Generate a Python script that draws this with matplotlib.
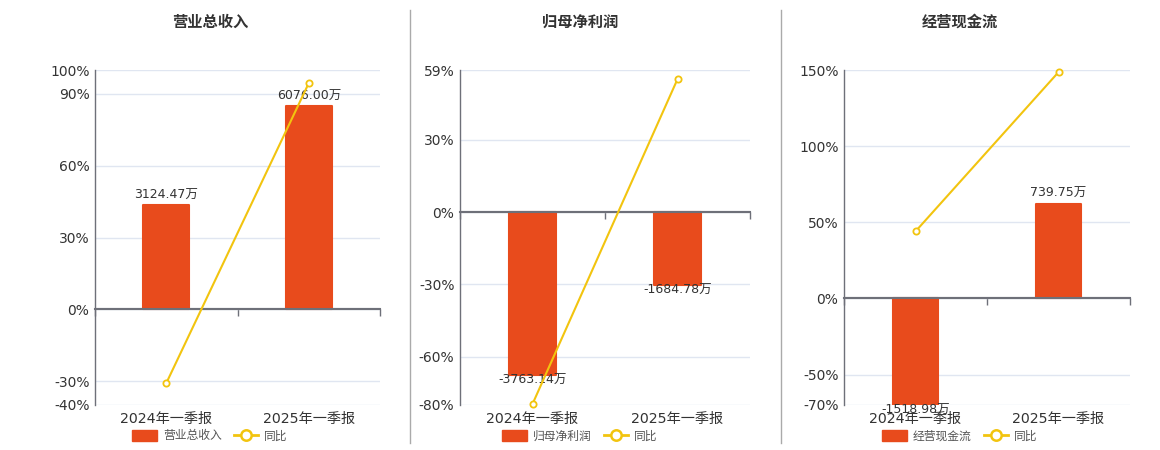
import matplotlib
matplotlib.use('Agg')
import matplotlib.pyplot as plt
from matplotlib.lines import Line2D
from matplotlib.patches import Patch
import numpy as np

plt.rcParams['font.family'] = ['DejaVu Sans', 'Noto Sans CJK SC']

# DATA
periods = ['2024年一季报', '2025年一季报']
titles = ['营业总收入', '归母净利润', '经营现金流']
bar_labels = [['3124.47万', '6076.00万'], ['-3763.14万', '-1684.78万'], ['-1518.98万', '739.75万']]

revenue = [3124.47, 6076.00]
revenue_yoy = [-30.9, 94.5]
profit = [-3763.14, -1684.78]
profit_yoy = [-79.6, 55.2]
cashflow = [-1518.98, 739.75]
cashflow_yoy = [44.0, 148.6]

pct_ticks = [[100, 90, 60, 30, 0, -30, -40],
             [59, 30, 0, -30, -60, -80],
             [150, 100, 50, 0, -50, -70]]

RED = '#E84B1C'
YEL = '#F2C40F'
AXC = '#6E7079'
GRID = '#E0E6F1'
TXT = '#333333'

W, H = 1160, 450
fig = plt.figure(figsize=(W / 100, H / 100), dpi=100)

# layout in pixels: axes left, right ; panel centre
axes_px = [(95, 380), (460, 750), (844, 1130)]
centers_px = [210, 580, 960]
bar_tops = [7163, 3283, 1784]   # bar axis top so that zero lines up
top_px, bot_px = 70, 405

series = [(revenue, revenue_yoy), (profit, profit_yoy), (cashflow, cashflow_yoy)]
x = np.arange(len(periods))

for i, (vals, yoy) in enumerate(series):
    l, r = axes_px[i]
    ax = fig.add_axes([l / W, 1 - bot_px / H, (r - l) / W, (bot_px - top_px) / H])
    ticks = pct_ticks[i]
    pmin, pmax = min(ticks), max(ticks)
    ax.set_xlim(-0.5, 1.5)
    ax.set_ylim(pmin, pmax)
    ax.set_yticks(ticks)
    ax.set_yticklabels([f'{t}%' for t in ticks])
    ax.grid(axis='y', color=GRID, lw=1)
    ax.set_axisbelow(True)
    ax.tick_params(axis='y', length=0, pad=4, labelsize=10, labelcolor=TXT)
    for s in ['top', 'right']:
        ax.spines[s].set_visible(False)
    ax.spines['left'].set_color(AXC)
    ax.spines['left'].set_linewidth(1)

    # zero axis with category boundary ticks
    ax.spines['bottom'].set_position(('data', 0))
    ax.spines['bottom'].set_color(AXC)
    ax.spines['bottom'].set_linewidth(1.5)
    ax.set_xticks([-0.5, 0.5, 1.5])
    ax.set_xticklabels(['', '', ''])
    ax.tick_params(axis='x', length=5, width=1, color=AXC, direction='out')

    # category labels at the bottom
    sec = ax.secondary_xaxis('bottom')
    sec.set_xticks(x)
    sec.set_xticklabels(periods)
    sec.spines['bottom'].set_visible(False)
    sec.tick_params(length=0, pad=5, labelsize=10.2, labelcolor=TXT)

    # bars on hidden twin axis
    axb = ax.twinx()
    bt = bar_tops[i]
    blo = bt * pmin / pmax
    axb.set_ylim(blo, bt)
    axb.axis('off')
    axb.bar(x, vals, width=0.32, color=RED, edgecolor=RED, linewidth=1.5,
            joinstyle='round', zorder=2)
    for xi, v, lab in zip(x, vals, bar_labels[i]):
        yv = float(np.clip(v, blo, bt))
        off = 7.2 if v >= 0 else -3.6
        axb.annotate(lab, (xi, yv), xytext=(0, off), textcoords='offset points',
                     ha='center', va='center', fontsize=9, color=TXT,
                     annotation_clip=False, zorder=5)

    # yoy line on another hidden twin
    axl = ax.twinx()
    axl.set_ylim(pmin, pmax)
    axl.axis('off')
    axl.axhline(0, color=AXC, lw=1.5, zorder=1)
    axl.plot(x, yoy, color=YEL, lw=1.5, marker='o', ms=4.5, mfc='white',
             mec=YEL, mew=1.3, clip_on=False, zorder=6)

    cx = centers_px[i] / W
    fig.text(cx, 1 - 22 / H, titles[i], ha='center', va='center',
             fontsize=11, fontweight='bold', color=TXT)

    handles = [Patch(facecolor=RED, edgecolor=RED, linewidth=1, joinstyle='round'),
               Line2D([0], [0], color=YEL, lw=2, marker='o', ms=7.5, mfc='white',
                      mec=YEL, mew=1.8)]
    fig.legend(handles, [titles[i], '同比'], loc='center', ncol=2,
               bbox_to_anchor=(cx, 1 - 436 / H), frameon=False, fontsize=8.5,
               labelcolor='#555555', handlelength=2.1, handleheight=1.1,
               handletextpad=0.5, columnspacing=1.0, borderpad=0)

# panel dividers
for xp in [410, 781]:
    fig.add_artist(Line2D([xp / W, xp / W], [1 - 10 / H, 1 - 443 / H],
                          color='#AAAAAA', lw=1, transform=fig.transFigure))

fig.savefig('out.png', dpi=100)
